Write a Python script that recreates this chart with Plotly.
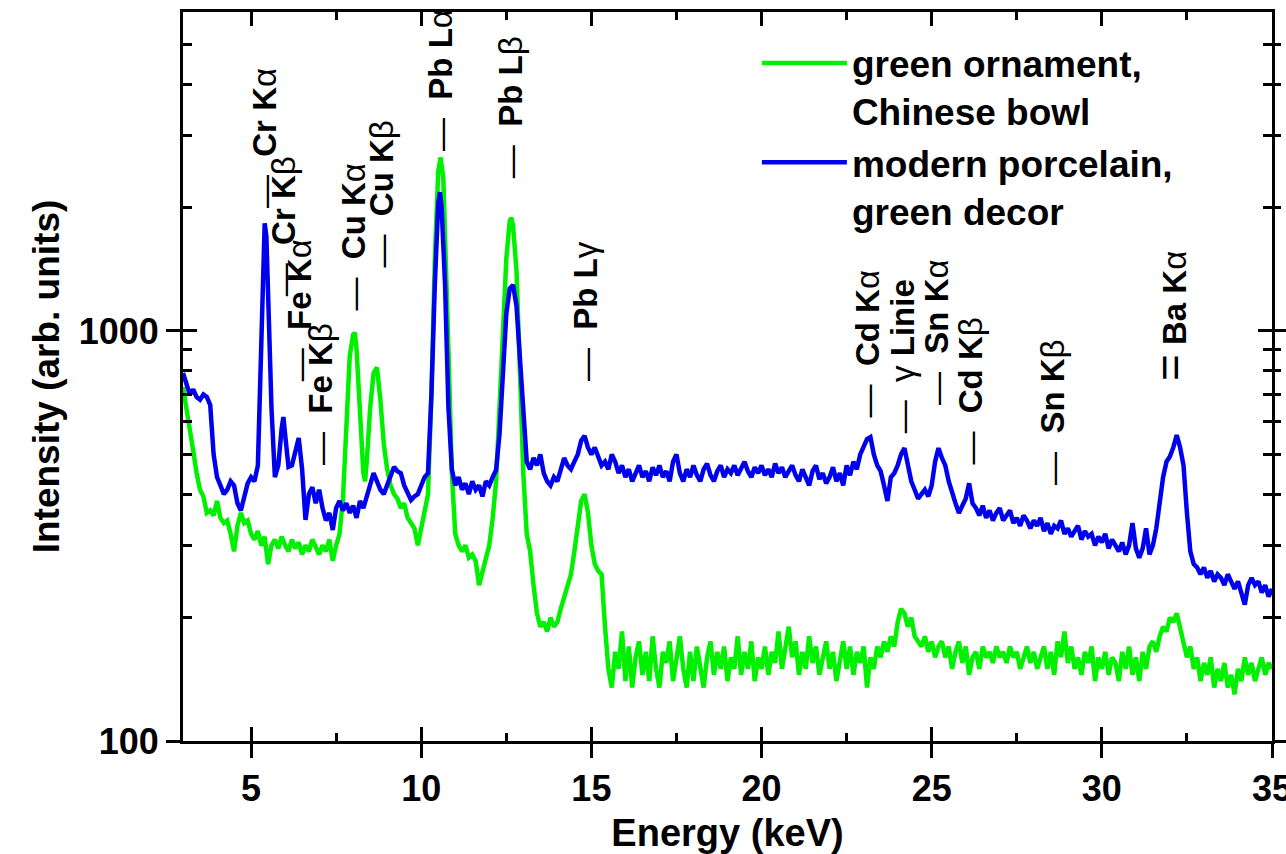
import plotly.graph_objects as go
import math

# ---------------- data ----------------
green_E = [3.0,3.1,3.2,3.3,3.4,3.5,3.6,3.7,3.8,3.9,4.0,4.1,4.2,4.3,4.4,4.5,4.6,4.7,4.8,4.9,
           5.0,5.1,5.2,5.3,5.4,5.5,5.6,5.7,5.8,5.9,6.0,6.1,6.2,6.3,6.4,6.5,6.6,6.7,6.8,6.9,
           7.0,7.1,7.2,7.3,7.4,7.5,7.6,7.7,7.8,7.9,8.0,8.05,8.1,8.2,8.3,8.35,8.4,8.5,8.6,8.7,
           8.8,8.9,9.0,9.1,9.2,9.3,9.4,9.5,9.6,9.7,9.8,9.9,10.0,10.1,10.2,10.3,10.4,10.5,10.57,10.65,
           10.7,10.8,10.9,11.0,11.1,11.2,11.3,11.4,11.5,11.6,11.7,11.8,11.9,12.0,12.1,12.2,12.3,12.4,12.5,12.6,
           12.65,12.7,12.8,12.9,13.0,13.1,13.2,13.3,13.4,13.5,13.6,13.7,13.8,13.9,14.0,14.1,14.2,14.3,14.4,14.5,
           14.6,14.7,14.8,14.9,15.0,15.1,15.2,15.3,15.4,
           15.5,15.6,15.7,15.8,15.9,16.0,16.1,16.2,16.3,16.4,16.5,16.6,16.7,16.8,16.9,
           17.0,17.1,17.2,17.3,17.4,17.5,17.6,17.7,17.8,17.9,18.0,18.1,18.2,18.3,18.4,18.5,18.6,18.7,18.8,18.9,
           19.0,19.1,19.2,19.3,19.4,19.5,19.6,19.7,19.8,19.9,20.0,20.1,20.2,20.3,20.4,20.5,20.6,20.7,20.8,20.9,
           21.0,21.1,21.2,21.3,21.4,21.5,21.6,21.7,21.8,21.9,22.0,22.1,22.2,22.3,22.4,22.5,22.6,22.7,22.8,22.9,
           23.0,23.1,23.2,23.3,23.4,23.5,23.6,23.7,23.8,23.9,24.0,24.1,24.2,24.3,24.4,24.5,24.6,24.7,24.8,24.9,
           25.0,25.1,25.2,25.3,25.4,25.5,25.6,25.7,25.8,25.9,26.0,26.1,26.2,26.3,26.4,26.5,26.6,26.7,26.8,26.9,
           27.0,27.1,27.2,27.3,27.4,27.5,27.6,27.7,27.8,27.9,28.0,28.1,28.2,28.3,28.4,28.5,28.6,28.7,28.8,28.9,
           29.0,29.1,29.2,29.3,29.4,29.5,29.6,29.7,29.8,29.9,30.0,30.1,30.2,30.3,30.4,30.5,30.6,30.7,30.8,30.9,
           31.0,31.1,31.2,31.3,31.4,31.5,31.6,31.7,31.8,31.9,32.0,32.1,32.2,32.3,32.4,32.5,32.6,32.7,32.8,32.9,
           33.0,33.1,33.2,33.3,33.4,33.5,33.6,33.7,33.8,33.9,34.0,34.1,34.2,34.3,34.4,34.5,34.6,34.7,34.8,34.9,35.0]
green_I = [730,640,560,510,450,410,395,360,365,355,385,350,340,345,320,290,335,360,340,345,
           320,310,325,300,315,270,300,310,295,315,300,290,310,295,305,285,300,290,310,295,
           285,300,290,310,275,300,320,390,600,870,980,990,900,620,450,430,480,650,790,815,
           680,530,460,420,400,390,370,380,350,340,330,300,330,370,400,700,1500,2450,2650,2350,
           1800,900,450,320,300,290,300,280,285,275,240,260,280,300,350,430,650,1050,1500,1850,
           1890,1800,1400,800,450,320,290,240,205,190,195,185,200,190,195,210,225,240,255,290,
           330,385,400,360,300,270,260,255,190,
           150,135,165,150,185,140,170,135,160,175,145,165,140,180,150,
           135,165,155,175,140,160,180,150,135,165,140,170,150,135,160,175,145,165,150,170,
           140,160,150,180,145,165,150,175,140,160,150,170,145,165,155,185,150,170,190,160,
           175,145,165,150,180,155,170,145,160,175,150,165,140,160,175,150,170,145,165,155,
           170,135,160,150,170,160,175,165,180,170,195,210,205,190,200,180,175,170,180,165,
           175,160,170,175,160,170,150,165,175,155,170,145,160,165,150,170,160,165,155,170,
           160,165,155,170,160,165,150,160,170,155,165,150,160,170,150,165,145,175,160,185,
           155,170,150,160,145,165,155,170,140,160,150,165,145,160,155,140,165,150,170,145,
           160,140,165,150,170,175,165,180,190,185,200,195,205,190,175,160,170,150,160,140,
           155,145,160,135,150,140,155,135,145,130,150,140,160,145,155,140,150,160,145,155,150]

blue_E = [3.0,3.1,3.2,3.3,3.4,3.5,3.6,3.7,3.8,3.9,4.0,4.1,4.2,4.3,4.4,4.5,4.6,4.7,4.8,4.9,
          5.0,5.1,5.2,5.25,5.3,5.4,5.45,5.5,5.6,5.7,5.8,5.9,5.95,6.0,6.1,6.2,6.3,6.4,6.5,6.6,
          6.7,6.8,6.9,7.0,7.1,7.2,7.3,7.4,7.5,7.6,7.7,7.8,7.9,8.0,8.1,8.2,8.3,8.4,8.5,8.6,
          8.7,8.8,8.9,9.0,9.1,9.2,9.3,9.4,9.5,9.6,9.7,9.8,9.9,10.0,10.1,10.2,10.3,10.4,10.5,10.55,
          10.6,10.7,10.8,10.9,11.0,11.1,11.2,11.3,11.4,11.5,11.6,11.7,11.8,11.9,12.0,12.1,12.2,12.3,12.4,12.5,
          12.6,12.7,12.8,12.9,13.0,13.1,13.2,13.3,13.4,13.5,13.6,13.7,13.8,13.9,14.0,14.1,14.2,14.3,14.4,14.5,
          14.6,14.7,14.8,14.9,15.0,15.1,15.2,15.3,15.4,15.5,15.6,15.7,15.8,15.9,16.0,16.1,16.2,16.3,16.4,16.5,
          16.6,16.7,16.8,16.9,17.0,17.1,17.2,17.3,17.4,17.5,17.6,17.7,17.8,17.9,18.0,18.1,18.2,18.3,18.4,18.5,
          18.6,18.7,18.8,18.9,19.0,19.1,19.2,19.3,19.4,19.5,19.6,19.7,19.8,19.9,20.0,20.1,20.2,20.3,20.4,20.5,
          20.6,20.7,20.8,20.9,21.0,21.1,21.2,21.3,21.4,21.5,21.6,21.7,21.8,21.9,22.0,22.1,22.2,22.3,22.4,22.5,
          22.6,22.7,22.8,22.9,23.0,23.1,23.2,23.3,23.4,23.5,23.6,23.7,23.8,23.9,24.0,24.1,24.2,24.3,24.4,24.5,
          24.6,24.7,24.8,24.9,25.0,25.1,25.2,25.3,25.4,25.5,25.6,25.7,25.8,25.9,26.0,26.1,26.2,26.3,26.4,26.5,
          26.6,26.7,26.8,26.9,27.0,27.1,27.2,27.3,27.4,27.5,27.6,27.7,27.8,27.9,28.0,28.1,28.2,28.3,28.4,28.5,
          28.6,28.7,28.8,28.9,29.0,29.1,29.2,29.3,29.4,29.5,29.6,29.7,29.8,29.9,30.0,30.1,30.2,30.3,30.4,30.5,
          30.6,30.7,30.8,30.9,31.0,31.1,31.2,31.3,31.4,31.5,31.6,31.7,31.8,31.9,32.0,32.1,32.2,32.3,32.4,32.5,
          32.6,32.7,32.8,32.9,33.0,33.1,33.2,33.3,33.4,33.5,33.6,33.7,33.8,33.9,34.0,34.1,34.2,34.3,34.4,34.5,
          34.6,34.7,34.8,34.9,35.0]
blue_I = [790,740,700,720,690,680,700,690,660,500,440,420,400,410,430,420,380,365,390,425,
          440,430,470,650,1100,1830,1700,1200,650,440,470,580,617,560,466,470,510,548,460,346,
          400,416,380,410,370,345,360,327,370,385,365,380,360,375,350,385,370,395,420,450,
          430,410,400,420,445,466,455,450,420,400,387,395,400,420,440,450,700,1300,2050,2180,
          2000,1300,650,460,420,440,410,425,400,430,410,420,395,430,420,440,458,560,800,1100,
          1270,1295,1150,850,600,480,460,490,470,500,450,430,420,440,430,460,490,470,460,480,
          500,540,555,520,500,520,490,470,480,460,500,480,450,470,440,460,430,450,470,440,
          455,430,465,445,470,440,455,430,480,500,450,430,460,440,470,445,430,460,475,445,
          430,455,470,440,460,450,470,445,460,480,455,440,465,450,470,445,460,440,475,450,
          465,440,455,470,445,430,460,440,420,455,470,435,450,425,440,465,430,450,420,470,
          445,480,460,500,520,545,551,500,470,455,420,385,440,450,470,500,518,470,430,410,
          390,400,410,395,420,480,518,490,470,430,400,380,360,375,390,425,380,370,355,375,
          350,365,345,360,370,345,355,365,340,350,335,355,345,330,345,335,350,325,340,320,
          335,330,345,320,330,315,325,335,310,325,315,320,300,315,305,320,295,310,300,290,
          305,285,300,340,295,280,295,330,285,300,330,380,440,480,494,520,557,520,470,360,
          290,270,265,255,265,250,260,245,255,250,240,255,245,235,245,230,215,240,250,240,
          245,230,240,225,235]

# emission line labels: energy (keV), label text ("|" separates bold / plain parts)
line_E = [5.38, 5.94, 6.41, 7.06, 8.0, 8.82, 10.55, 12.61, 14.81, 23.1, 24.13, 25.16, 26.13, 28.57, 32.0]
line_text = ["Cr K|α", "Cr K|β", "Fe K|α", "Fe K|β", "Cu K|α", "Cu K|β", "Pb L|α", "Pb L|β",
             "Pb L|γ", "Cd K|α", "|γ| Linie", "Sn K|α", "Cd K|β", "Sn K|β", "Ba K|α"]
line_mark = ["—", "—", "—", "—", "—", "—", "—", "—", "—", "—", "—", "—", "—", "—", "="]
# intensity at which each label's marker begins
line_base = [1972, 1202, 746, 466, 1107, 1409, 2716, 2333, 746, 607, 557, 653, 466, 417, 746]

series_names = ["green ornament,<br>Chinese bowl", "modern porcelain,<br>green decor"]
series_colors = ["#00f000", "#0000f0"]

x_ticks = [5, 10, 15, 20, 25, 30, 35]
x_minor = [7.5, 12.5, 17.5, 22.5, 27.5, 32.5]
y_ticks = [100, 1000]
y_ticktext = ["100", "1000"]
y_minor = [200, 300, 400, 500, 600, 700, 800, 900, 2000, 3000, 4000, 5000]

# ---------------- figure ----------------
FONT = "Liberation Sans, Arial, sans-serif"
fig = go.Figure()
fig.add_trace(go.Scatter(x=green_E, y=green_I, mode="lines", name=series_names[0],
                         line=dict(color=series_colors[0], width=4.5)))
fig.add_trace(go.Scatter(x=blue_E, y=blue_I, mode="lines", name=series_names[1],
                         line=dict(color=series_colors[1], width=4.5)))
# helper (empty) traces so that the extra tick axes exist
fig.add_trace(go.Scatter(x=[], y=[], xaxis="x2", yaxis="y2", showlegend=False, hoverinfo="skip"))
fig.add_trace(go.Scatter(x=[], y=[], xaxis="x", yaxis="y3", showlegend=False, hoverinfo="skip"))

for E, txt, mk, base in zip(line_E, line_text, line_mark, line_base):
    parts = txt.split("|")
    html = ""
    for i, p in enumerate(parts):
        if p == "":
            continue
        html += ("<b>" + p + "</b>") if i % 2 == 0 else p
    if mk == "=":
        mark = '<span style="font-size:46px">=</span>\u00a0'
    else:
        mark = mk + "\u00a0\u00a0"
    fig.add_annotation(x=E, y=math.log10(base), xref="x", yref="y",
                       text=mark + html, textangle=-90, showarrow=False,
                       xanchor="center", yanchor="bottom",
                       font=dict(family=FONT, size=33, color="black"))

axis_common = dict(showgrid=False, zeroline=False, linecolor="black", linewidth=3,
                   tickcolor="black", tickwidth=3, automargin=False)
fig.update_layout(
    width=1286, height=854,
    margin=dict(l=183, r=14, t=12, b=113),
    paper_bgcolor="white", plot_bgcolor="white",
    font=dict(family=FONT, color="black"),
    xaxis=dict(range=[3, 35], showline=True, mirror=True, ticks="outside", ticklen=14,
               tickvals=x_ticks, tickfont=dict(size=36, weight="bold"),
               ticklabeloverflow="allow",
               title=dict(text="<b>Energy (keV)</b>", font=dict(size=38), standoff=18),
               **axis_common),
    xaxis2=dict(range=[3, 35], overlaying="x", anchor="y", side="bottom", showline=True,
                mirror="allticks", ticks="inside", ticklen=14, tickvals=x_ticks,
                showticklabels=False,
                minor=dict(ticks="inside", ticklen=8, tickwidth=3, tickcolor="black",
                           tickvals=x_minor),
                **axis_common),
    yaxis=dict(type="log", range=[2, 3.778], showline=True, mirror=True, ticks="outside",
               ticklen=14, tickvals=y_ticks, ticktext=y_ticktext,
               tickfont=dict(size=36, weight="bold"),
               title=dict(text="<b>Intensity (arb. units)</b>", font=dict(size=37), standoff=8),
               **axis_common),
    yaxis2=dict(type="log", range=[2, 3.778], overlaying="y", anchor="x", side="left",
                showline=True, mirror="allticks", ticks="inside", ticklen=14, tickvals=y_ticks,
                showticklabels=False,
                minor=dict(ticks="inside", ticklen=9, tickwidth=3, tickcolor="black",
                           tickvals=y_minor),
                **axis_common),
    yaxis3=dict(type="log", range=[2, 3.778], overlaying="y", anchor="x", side="right",
                showline=False, ticks="outside", ticklen=13, tickvals=y_ticks,
                showticklabels=False,
                minor=dict(ticks="outside", ticklen=8, tickwidth=3, tickcolor="black",
                           tickvals=y_minor),
                **axis_common),
    legend=dict(x=0.527, y=0.972, xanchor="left", yanchor="top", bgcolor="rgba(0,0,0,0)",
                font=dict(family=FONT, size=37, weight="bold"), itemwidth=85,
                valign="top", tracegroupgap=0),
    showlegend=True,
)

fig.write_html("out.html")
